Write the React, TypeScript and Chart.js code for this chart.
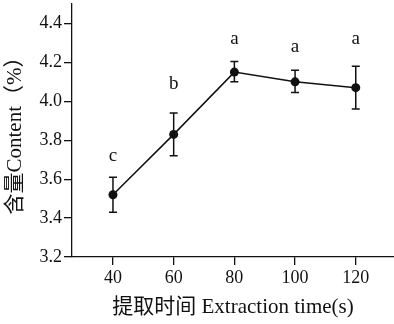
import React, { useEffect, useRef } from "react";
import { Chart, registerables } from "chart.js";

Chart.register(...registerables);

const times = [40, 60, 80, 100, 120];
const content = [3.52, 3.83, 4.15, 4.1, 4.07];
const errLow = [3.43, 3.72, 4.1, 4.045, 3.96];
const errHigh = [3.61, 3.94, 4.205, 4.16, 4.18];
const letters = ["c", "b", "a", "a", "a"];
const letterLevel = [3.72, 4.09, 4.32, 4.28, 4.32];
const xTicks = [40, 60, 80, 100, 120];
const yTicks = [3.2, 3.4, 3.6, 3.8, 4.0, 4.2, 4.4];

const SERIF = "'Liberation Serif', 'Noto Sans CJK SC', serif";

const errorPlugin = {
  id: "errorBars",
  afterDatasetsDraw(chart: any) {
    const { ctx, scales } = chart;
    const xs = scales.x;
    const ys = scales.y;
    ctx.save();
    ctx.strokeStyle = "#111";
    ctx.lineWidth = 1.5;
    times.forEach((t, i) => {
      const x = xs.getPixelForValue(t);
      const yl = ys.getPixelForValue(errLow[i]);
      const yh = ys.getPixelForValue(errHigh[i]);
      ctx.beginPath();
      ctx.moveTo(x, yl);
      ctx.lineTo(x, yh);
      ctx.moveTo(x - 4, yl);
      ctx.lineTo(x + 4, yl);
      ctx.moveTo(x - 4, yh);
      ctx.lineTo(x + 4, yh);
      ctx.stroke();
    });
    ctx.fillStyle = "#111";
    ctx.font = `19px ${SERIF}`;
    ctx.textAlign = "center";
    ctx.textBaseline = "middle";
    times.forEach((t, i) => {
      ctx.fillText(letters[i], xs.getPixelForValue(t), ys.getPixelForValue(letterLevel[i]));
    });
    ctx.restore();
  },
};

export default function App() {
  const ref = useRef<HTMLCanvasElement | null>(null);
  useEffect(() => {
    document.body.style.margin = "0";
    const chart = new Chart(ref.current as HTMLCanvasElement, {
      type: "line",
      data: {
        datasets: [
          {
            data: times.map((t, i) => ({ x: t, y: content[i] })),
            borderColor: "#111",
            backgroundColor: "#111",
            borderWidth: 1.5,
            pointRadius: 4.5,
            pointBackgroundColor: "#111",
            pointBorderWidth: 0,
            tension: 0,
            clip: false,
          },
        ],
      },
      options: {
        animation: false,
        responsive: true,
        maintainAspectRatio: false,
        layout: { autoPadding: false, padding: { top: 4, right: 0, left: 0, bottom: 0 } },
        plugins: { legend: { display: false }, tooltip: { enabled: false } },
        scales: {
          x: {
            type: "linear",
            min: 26.5,
            max: 132.6,
            afterBuildTicks: (s: any) => {
              s.ticks = xTicks.map((v) => ({ value: v }));
            },
            afterFit: (s: any) => {
              s.height = 67;
              s.paddingLeft = 0;
              s.paddingRight = 0;
            },
            grid: {
              drawOnChartArea: false,
              drawTicks: true,
              tickLength: 8,
              color: "#111",
              lineWidth: 1.3,
            },
            border: { display: true, color: "#111", width: 1.3 },
            ticks: {
              color: "#111",
              font: { family: SERIF, size: 18 },
              padding: 2,
              maxRotation: 0,
              callback: (v: any) => String(v),
            },
            title: {
              display: true,
              text: "提取时间 Extraction time(s)",
              color: "#111",
              font: { family: SERIF, size: 21 },
              padding: { top: 0, bottom: 4 },
            },
          },
          y: {
            type: "linear",
            min: 3.2,
            max: 4.5,
            afterBuildTicks: (s: any) => {
              s.ticks = yTicks.map((v) => ({ value: v }));
            },
            afterFit: (s: any) => {
              s.width = 72;
              s.paddingTop = 0;
              s.paddingBottom = 0;
            },
            grid: {
              drawOnChartArea: false,
              drawTicks: true,
              tickLength: 8,
              color: "#111",
              lineWidth: 1.3,
            },
            border: { display: true, color: "#111", width: 1.3 },
            ticks: {
              color: "#111",
              font: { family: SERIF, size: 18 },
              padding: 2,
              callback: (v: any) => Number(v).toFixed(1),
            },
            title: {
              display: true,
              text: "含量Content（%）",
              color: "#111",
              font: { family: SERIF, size: 21 },
              padding: { top: 3, bottom: 0 },
            },
          },
        },
      },
      plugins: [errorPlugin],
    });
    return () => chart.destroy();
  }, []);
  return (
    <div style={{ position: "relative", width: 394, height: 324 }}>
      <canvas ref={ref} />
    </div>
  );
}
